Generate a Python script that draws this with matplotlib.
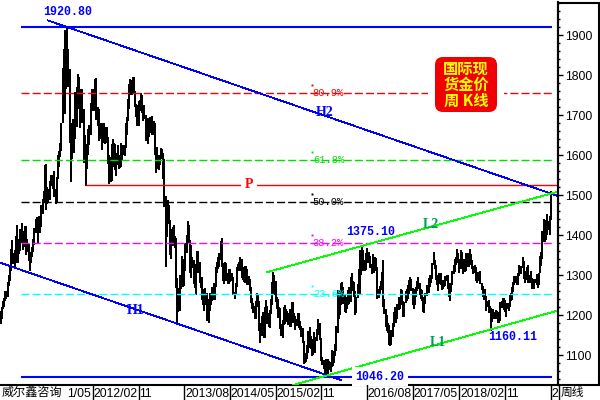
import numpy as np
import pandas as pd
import matplotlib
matplotlib.use('Agg')
import matplotlib.pyplot as plt
from matplotlib.patches import FancyBboxPatch, Rectangle

plt.rcParams['lines.scale_dashes'] = False

# 周K线数据：每周最高 / 最低价（首周 2010-08-02）
first_week = '2010-08-02'

high_2010 = [1210, 1220, 1236, 1242, 1259, 1260, 1283, 1300, 1320, 1364, 1387, 1355, 1362, 1398,
             1424, 1390, 1382, 1415, 1431, 1410, 1392, 1423]
low_2010 = [1178, 1190, 1215, 1221, 1235, 1240, 1244, 1273, 1286, 1311, 1340, 1327, 1315, 1330,
            1365, 1331, 1352, 1359, 1380, 1362, 1370, 1376]

high_2011 = [1423, 1390, 1378, 1350, 1358, 1369, 1390, 1417, 1440, 1445, 1432, 1447, 1440,
             1476, 1490, 1510, 1575, 1577, 1520, 1515, 1536, 1550, 1550, 1549, 1560, 1515,
             1545, 1600, 1610, 1630, 1680, 1817, 1866, 1912, 1885, 1920.8, 1865, 1815, 1680,
             1680, 1690, 1678, 1758, 1770, 1802, 1795, 1730, 1764, 1765, 1715, 1650, 1620]
low_2011 = [1350, 1358, 1336, 1309, 1330, 1344, 1357, 1376, 1404, 1407, 1381, 1414, 1404,
            1421, 1452, 1482, 1500, 1462, 1477, 1480, 1488, 1524, 1523, 1515, 1495, 1478,
            1482, 1540, 1570, 1595, 1610, 1680, 1740, 1702, 1765, 1825, 1770, 1630, 1532,
            1590, 1640, 1605, 1640, 1670, 1738, 1715, 1667, 1690, 1680, 1580, 1590, 1523]

high_2012 = [1627, 1665, 1676, 1730, 1764, 1764, 1740, 1790, 1792, 1720, 1715, 1672, 1680,
             1680, 1680, 1650, 1670, 1670, 1645, 1600, 1595, 1627, 1640, 1630, 1628, 1605,
             1625, 1600, 1598, 1630, 1625, 1625, 1625, 1680, 1695, 1740, 1777, 1790, 1787,
             1796, 1794, 1760, 1728, 1725, 1735, 1737, 1755, 1750, 1723, 1725, 1700, 1670, 1693]
low_2012 = [1565, 1600, 1625, 1650, 1715, 1710, 1710, 1735, 1688, 1673, 1635, 1640, 1650,
            1612, 1630, 1627, 1640, 1630, 1577, 1527, 1533, 1535, 1570, 1582, 1563, 1548,
            1576, 1565, 1568, 1570, 1585, 1600, 1598, 1617, 1650, 1685, 1716, 1750, 1750,
            1765, 1755, 1720, 1695, 1673, 1673, 1710, 1716, 1705, 1684, 1690, 1636, 1650, 1627]

high_2013 = [1680, 1695, 1697, 1685, 1685, 1680, 1618, 1619, 1600, 1597, 1617, 1616,
             1605, 1590, 1497, 1475, 1488, 1476, 1438, 1415, 1419, 1424, 1397, 1393, 1293,
             1267, 1299, 1299, 1348, 1340, 1318, 1380, 1400, 1434, 1425, 1387, 1375, 1346, 1338,
             1328, 1326, 1361, 1361, 1333, 1296, 1295, 1265, 1260, 1268, 1255, 1218, 1239]
low_2013 = [1645, 1655, 1650, 1650, 1660, 1600, 1555, 1565, 1562, 1575, 1598, 1590,
            1539, 1471, 1321, 1395, 1440, 1427, 1350, 1339, 1372, 1375, 1368, 1268, 1180,
            1207, 1210, 1265, 1285, 1270, 1272, 1310, 1355, 1380, 1380, 1306, 1292, 1317, 1277,
            1268, 1251, 1313, 1304, 1281, 1267, 1238, 1225, 1211, 1225, 1186, 1192, 1181]

high_2014 = [1255, 1256, 1270, 1280, 1270, 1320, 1332, 1345, 1355, 1385, 1392, 1330, 1310,
             1332, 1330, 1305, 1315, 1316, 1306, 1306, 1295, 1257, 1280, 1321, 1327, 1332,
             1346, 1340, 1320, 1312, 1322, 1322, 1316, 1298, 1290, 1270, 1242, 1230, 1222,
             1235, 1255, 1250, 1234, 1179, 1198, 1207, 1200, 1220, 1238, 1222, 1205, 1212]
low_2014 = [1211, 1224, 1235, 1238, 1238, 1271, 1305, 1316, 1321, 1337, 1320, 1284, 1278,
            1291, 1286, 1277, 1278, 1283, 1286, 1285, 1251, 1240, 1251, 1270, 1309, 1310,
            1311, 1292, 1288, 1282, 1280, 1300, 1274, 1276, 1259, 1230, 1214, 1204, 1190,
            1190, 1220, 1225, 1160, 1131, 1148, 1180, 1142, 1142, 1190, 1178, 1170, 1167]

high_2015 = [1240, 1283, 1307, 1300, 1285, 1245, 1240, 1220, 1217, 1178, 1188, 1219, 1224,
             1215, 1209, 1206, 1215, 1194, 1232, 1232, 1206, 1198, 1190, 1205, 1205, 1185,
             1172, 1168, 1135, 1105, 1101, 1126, 1160, 1170, 1147, 1125, 1141, 1157, 1145,
             1166, 1191, 1180, 1180, 1142, 1095, 1088, 1080, 1090, 1088, 1089, 1085, 1082]
low_2015 = [1203, 1225, 1270, 1250, 1232, 1216, 1192, 1195, 1164, 1147, 1142, 1175, 1178,
            1183, 1187, 1174, 1170, 1170, 1181, 1200, 1180, 1162, 1172, 1174, 1168, 1162,
            1146, 1130, 1077, 1080, 1082, 1089, 1105, 1118, 1115, 1098, 1100, 1126, 1104,
            1135, 1150, 1158, 1137, 1085, 1075, 1065, 1052, 1046.2, 1062, 1050, 1063, 1058]

high_2016 = [1112, 1105, 1111, 1128, 1172, 1263, 1245, 1262, 1280, 1283, 1270, 1251, 1243,
             1245, 1262, 1271, 1296, 1304, 1285, 1283, 1260, 1246, 1278, 1316, 1362, 1341,
             1375.1, 1363, 1337, 1356, 1367, 1357, 1358, 1348, 1327, 1352, 1332, 1344, 1343,
             1320, 1265, 1273, 1285, 1308, 1338, 1240, 1216, 1199, 1180, 1175, 1140, 1163]
low_2016 = [1071, 1072, 1080, 1097, 1111, 1154, 1191, 1200, 1225, 1239, 1227, 1208, 1206,
            1215, 1225, 1227, 1233, 1265, 1260, 1245, 1200, 1205, 1242, 1270, 1250, 1300,
            1336, 1310, 1310, 1312, 1333, 1330, 1332, 1318, 1302, 1320, 1306, 1309, 1310,
            1241, 1243, 1253, 1262, 1272, 1220, 1203, 1171, 1160, 1155, 1124, 1122, 1124]

high_2017 = [1180, 1207, 1220, 1220, 1227, 1245, 1244, 1264, 1262, 1236, 1232, 1261, 1264,
             1274, 1288, 1295, 1289, 1267, 1236, 1264, 1270, 1285, 1296, 1280, 1264, 1263,
             1245, 1234, 1256, 1274, 1275, 1293, 1300, 1300, 1330, 1357, 1338, 1326, 1300,
             1282, 1306, 1306, 1287, 1285, 1288, 1297, 1299, 1299, 1280, 1262, 1280, 1309]
low_2017 = [1146, 1170, 1194, 1180, 1190, 1213, 1216, 1233, 1225, 1195, 1196, 1230, 1236,
            1240, 1253, 1276, 1260, 1226, 1214, 1226, 1246, 1261, 1265, 1250, 1240, 1236,
            1208, 1205, 1227, 1248, 1256, 1255, 1269, 1281, 1290, 1325, 1314, 1288, 1276,
            1260, 1278, 1276, 1263, 1265, 1270, 1272, 1284, 1266, 1244, 1236, 1258, 1275]

high_2018 = [1326, 1340, 1345, 1366, 1355, 1340, 1362, 1357, 1340, 1341, 1331, 1356, 1356,
             1345, 1365, 1353, 1338, 1322, 1326, 1320, 1307, 1307, 1308, 1309, 1281, 1272,
             1265, 1266, 1247, 1235, 1237, 1223, 1218, 1215, 1215, 1207, 1213, 1211, 1205,
             1208, 1233, 1234, 1243, 1243, 1237, 1226, 1231, 1230, 1250, 1254, 1270, 1283, 1298]
low_2018 = [1302, 1307, 1325, 1330, 1330, 1306, 1315, 1321, 1303, 1316, 1308, 1309, 1321,
            1321, 1326, 1334, 1314, 1302, 1305, 1285, 1281, 1287, 1286, 1277, 1262, 1246,
            1238, 1237, 1211, 1219, 1204, 1207, 1160.11, 1182, 1191, 1190, 1190, 1194, 1180,
            1181, 1185, 1218, 1220, 1212, 1207, 1196, 1215, 1210, 1221, 1236, 1238, 1257, 1276]

high_2019 = [1298, 1298, 1304, 1326, 1320, 1323, 1346, 1334, 1300, 1311, 1320, 1324,
             1300, 1310, 1292, 1289, 1290, 1290, 1303, 1287, 1306, 1348, 1358, 1411, 1439,
             1437, 1426, 1453, 1434, 1448, 1510]
low_2019 = [1279, 1276, 1276, 1298, 1302, 1302, 1318, 1290, 1281, 1288, 1297, 1281,
            1280, 1282, 1266, 1267, 1266, 1280, 1274, 1268, 1275, 1305, 1323, 1340, 1382,
            1382, 1387, 1401, 1412, 1400, 1437]

# 黄金分割
peak_price, trough_price = 1920.80, 1046.20
fib_ratios = [0.236, 0.382, 0.5, 0.618, 0.809]
fib_colors = ['#00ffff', '#ff00ff', '#000000', '#00e000', '#ff0000']
fib_span = (17.5, 471.0)          # 周序号
fib_label_week = 266.8

# 趋势线端点 (周序号, 价格)
h2_line = [(40.6, 1936.3), (476.3, 1497.5)]
h1_line = [(0.4, 1330.0), (290.9, 1037.5)]
l2_line = [(227.4, 1306.8), (476.3, 1508.5)]
l1_line = [(249.9, 1025.0), (476.3, 1211.3)]
p_level, p_start = 1525.0, 73.0

price_ticks = [1100, 1200, 1300, 1400, 1500, 1600, 1700, 1800, 1900]
minor_ticks = list(range(1040, 1981, 20))

highs = np.concatenate([high_2010, high_2011, high_2012, high_2013, high_2014,
                        high_2015, high_2016, high_2017, high_2018, high_2019])
lows = np.concatenate([low_2010, low_2011, low_2012, low_2013, low_2014,
                       low_2015, low_2016, low_2017, low_2018, low_2019])
weeks = np.arange(len(highs))
dates = pd.date_range(first_week, periods=len(highs), freq='7D')

MONO = 'Liberation Mono'
SERIF = 'Liberation Serif'
SANS = 'Liberation Sans'
CJK = ['Noto Sans CJK SC', 'DejaVu Sans']
BLUE = '#0000ff'

fig = plt.figure(figsize=(6, 4), dpi=100, facecolor='white')
ax = fig.add_axes([0, 15 / 400, 558 / 600, 383 / 400])
ax.set_xlim(-0.43, 476.25)
ax.set_ylim(1025, 1982.5)

# K线
ax.vlines(weeks, lows, highs, colors='black', lw=1.2, zorder=2, antialiaseds=False)


def hline(y, x0, x1, color, lw, **kw):
    ax.plot([x0, x1], [y, y], color=color, lw=lw, snap=True, solid_capstyle='butt',
            dash_capstyle='butt', zorder=3, **kw)


# 黄金分割线
for r, c in zip(fib_ratios, fib_colors):
    lvl = trough_price + r * (peak_price - trough_price)
    hline(lvl, *fib_span, c, 1.0, dashes=(5.8, 2.2))
    ax.text(fib_label_week, lvl, f'{r * 100:.1f}%', color=c, fontsize=7.5, family=MONO,
            ha='left', va='center', zorder=5)
    ax.plot(fib_label_week - 0.5, lvl + 20, marker='s', ms=1.4, color=c, mew=0, zorder=5)

# 高低点水平线
hline(peak_price, *fib_span, BLUE, 1.5)
hline(trough_price, *fib_span, BLUE, 1.5)
hline(p_level, p_start, 476.0, '#ff0000', 1.0)

# 通道线（像素风格，不抗锯齿）
for line, col in [(h2_line, BLUE), (h1_line, BLUE), (l2_line, '#00ff00'), (l1_line, '#00ff00')]:
    (x0, y0), (x1, y1) = line
    ax.plot([x0, x1], [y0, y1], color=col, lw=0.6, zorder=3, antialiased=False)

bold_mono = dict(family=MONO, fontsize=8.4, fontweight='bold', color=BLUE, zorder=6)
ax.text(57.7, peak_price + 37, '1920.80', ha='center', va='center', **bold_mono)
ax.text(324.2, trough_price, '1046.20', ha='center', va='center',
        bbox=dict(fc='white', ec='none', pad=2.5), **bold_mono)
ax.text(316.5, 1407.5, '1375.10', ha='center', va='center', **bold_mono)
ax.text(437.2, 1145, '1160.11', ha='center', va='center', **bold_mono)

serif_lab = dict(family=SERIF, fontsize=10, fontweight='bold', ha='center', va='center', zorder=6)
ax.text(277.2, 1707, 'H2', color=BLUE, **serif_lab)
ax.text(115.8, 1211, 'H1', color=BLUE, **serif_lab)
ax.text(212.3, p_level, 'P', color='#ff0000', bbox=dict(fc='white', ec='none', pad=2.5), **serif_lab)
ax.text(367.3, 1425, 'L2', color='#00a050', **serif_lab)
ax.text(373.2, 1132.5, 'L1', color='#00a050', **serif_lab)

# 坐标轴
for s in ['top', 'left']:
    ax.spines[s].set_visible(False)
for s in ['right', 'bottom']:
    ax.spines[s].set_linewidth(1.5)
ax.set_xticks([])
ax.yaxis.tick_right()
ax.set_yticks(price_ticks)
ax.set_yticks(minor_ticks, minor=True)
ax.tick_params(axis='y', which='major', length=3.6, width=1, pad=1.5, labelsize=8.7,
               direction='out')
ax.tick_params(axis='y', which='minor', length=1.5, width=1, direction='out')
for lbl in ax.get_yticklabels():
    lbl.set_family(SANS)

# 右侧框
fig.add_artist(Rectangle((5.58, 0.15), 0.41, 3.82, transform=fig.dpi_scale_trans,
                         fill=False, ec='black', lw=1.5))
fig.add_artist(plt.Line2D([5.585, 5.585], [0, 0.15], transform=fig.dpi_scale_trans,
                          color='black', lw=1.0))
fig.text(5.61, 0.075, '周线', transform=fig.dpi_scale_trans, family=CJK, fontsize=8.5,
         ha='left', va='center')

# 日期栏：每9个月一个刻度，同年只写月份；首尾被遮挡/截断，只留可见部分
lab = fig.add_axes([0, 0, 558 / 600, 15 / 400])
lab.set_xlim(ax.get_xlim())
lab.set_ylim(0, 1)
lab.axis('off')
tick_months = pd.date_range('2011-05-01', '2019-08-01', freq='9MS')
tick_pos = [int(np.searchsorted(dates, m)) for m in tick_months]
prev_year = None
for k, (m, pos) in enumerate(zip(tick_months, tick_pos)):
    text = f'{m.year}/{m.month:02d}' if m.year != prev_year else f'{m.month:02d}'
    prev_year = m.year
    if k == 0:
        # 前半被“威尔鑫咨询”盖住
        lab.text(tick_pos[1] - 1.6, 0.42, text[3:], ha='right', va='center', family=SANS,
                 fontsize=8.8)
        continue
    lab.axvline(pos, color='black', lw=1.0, snap=True)
    if k == len(tick_months) - 1:
        text = text[:1]   # 被右侧坐标栏截断
    lab.text(pos + 0.6, 0.42, text, ha='left', va='center', family=SANS, fontsize=8.8)

fig.text(0.02, 0.075, '威尔鑫咨询', transform=fig.dpi_scale_trans, family=CJK, fontsize=8.7,
         ha='left', va='center')

# 标题框
fig.add_artist(Rectangle((4.28, 2.83), 0.76, 0.65, transform=fig.dpi_scale_trans,
                         fc='white', ec='none'))
fig.add_artist(FancyBboxPatch((4.35, 2.88), 0.62, 0.55, transform=fig.dpi_scale_trans,
                              boxstyle='round,pad=0,rounding_size=0.08', fc='#f00000', ec='none'))
fig.text(4.66, 3.155, '国际现\n货金价\n周 K线', transform=fig.dpi_scale_trans, family=CJK,
         fontsize=11, fontweight='bold', color='#ffff00', ha='center', va='center',
         linespacing=1.0)

fig.savefig('out.png', dpi=100, facecolor='white')
